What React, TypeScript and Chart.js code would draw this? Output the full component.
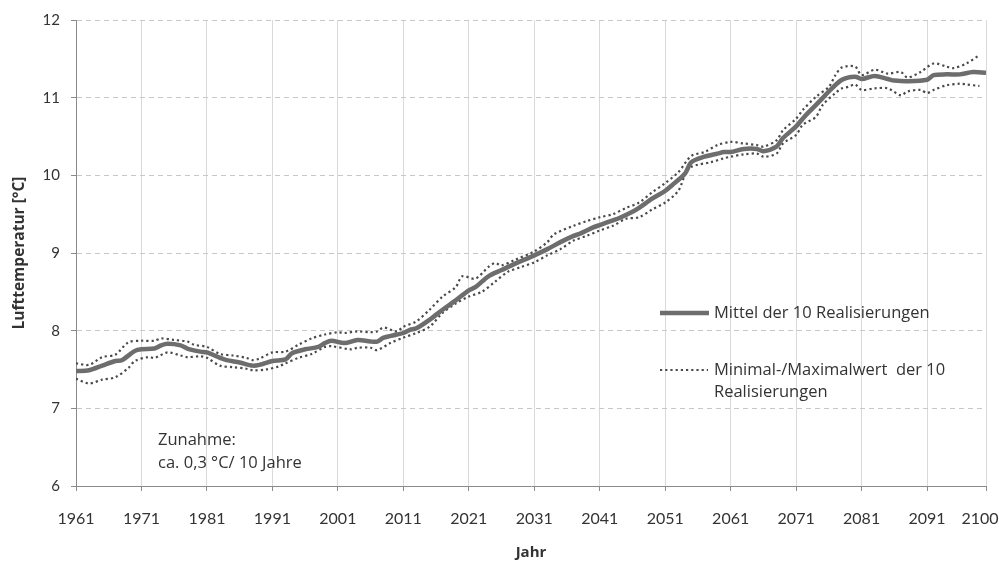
import { useEffect, useRef } from 'react';
import { Chart, registerables } from 'chart.js';

Chart.register(...registerables);

const meanYears = [1961,1963,1965,1967,1968,1970,1971,1973,1974,1975,1977,1978,1980,1981,1983,1984,1986,1988,1989,1991,1993,1994,1996,1998,1999,2000,2002,2004,2006,2007,2008,2010,2011,2012,2013,2015,2017,2019,2021,2022,2024,2026,2028,2031,2033,2035,2037,2038,2040,2041,2043,2044,2046,2047,2049,2051,2052,2054,2055,2057,2059,2060,2061,2063,2065,2066,2068,2069,2071,2072,2073,2075,2076,2078,2080,2081,2083,2085,2086,2088,2091,2092,2094,2096,2098,2100];
const meanValues = [7.48,7.49,7.55,7.61,7.62,7.74,7.76,7.77,7.81,7.83,7.81,7.77,7.73,7.72,7.65,7.62,7.59,7.55,7.56,7.61,7.63,7.71,7.76,7.79,7.84,7.87,7.84,7.88,7.86,7.86,7.91,7.95,7.97,8.01,8.03,8.14,8.27,8.39,8.52,8.56,8.70,8.78,8.86,8.97,9.05,9.14,9.22,9.25,9.33,9.36,9.42,9.45,9.53,9.58,9.70,9.80,9.87,10.02,10.17,10.24,10.28,10.30,10.30,10.34,10.34,10.31,10.37,10.48,10.63,10.73,10.82,10.99,11.08,11.23,11.27,11.24,11.28,11.24,11.22,11.21,11.23,11.29,11.30,11.30,11.33,11.32];

const maxYears = [1961,1963,1965,1967,1969,1971,1973,1974,1976,1978,1979,1981,1983,1985,1987,1988,1989,1991,1993,1995,1997,1999,2001,2002,2004,2006,2007,2008,2010,2011,2013,2015,2017,2019,2020,2022,2024,2025,2026,2028,2031,2033,2034,2037,2039,2041,2043,2045,2047,2049,2051,2053,2055,2057,2059,2061,2063,2065,2066,2068,2069,2071,2072,2074,2076,2077,2078,2080,2081,2083,2085,2087,2088,2090,2092,2094,2095,2097,2099];
const maxValues = [7.58,7.56,7.66,7.69,7.85,7.87,7.87,7.90,7.88,7.86,7.82,7.79,7.70,7.68,7.65,7.62,7.64,7.72,7.73,7.82,7.90,7.95,7.98,7.97,7.99,7.98,7.99,8.04,7.99,8.05,8.12,8.27,8.44,8.56,8.70,8.67,8.82,8.87,8.84,8.91,9.02,9.14,9.24,9.35,9.41,9.46,9.50,9.58,9.65,9.78,9.90,10.04,10.25,10.30,10.39,10.43,10.41,10.39,10.37,10.45,10.58,10.73,10.84,11.01,11.14,11.29,11.39,11.40,11.29,11.36,11.31,11.33,11.26,11.33,11.44,11.40,11.38,11.44,11.55];

const minYears = [1961,1963,1965,1967,1969,1970,1972,1973,1975,1977,1978,1980,1981,1983,1985,1987,1988,1990,1992,1993,1995,1997,1999,2000,2003,2004,2006,2007,2009,2011,2013,2015,2017,2019,2021,2023,2025,2027,2029,2031,2033,2035,2037,2039,2041,2043,2045,2047,2049,2051,2053,2054,2055,2058,2060,2061,2063,2065,2066,2068,2069,2071,2072,2074,2075,2077,2078,2079,2080,2081,2083,2085,2087,2088,2090,2091,2092,2094,2096,2097,2099];
const minValues = [7.38,7.32,7.37,7.40,7.52,7.61,7.66,7.65,7.72,7.68,7.66,7.67,7.65,7.55,7.53,7.51,7.49,7.50,7.54,7.58,7.65,7.70,7.79,7.80,7.76,7.78,7.78,7.75,7.84,7.91,7.97,8.05,8.23,8.35,8.44,8.50,8.63,8.76,8.82,8.88,8.97,9.05,9.16,9.22,9.29,9.35,9.44,9.46,9.56,9.65,9.80,10.00,10.11,10.17,10.22,10.24,10.27,10.28,10.24,10.28,10.41,10.52,10.65,10.75,10.90,11.06,11.12,11.14,11.17,11.10,11.12,11.12,11.03,11.08,11.10,11.06,11.10,11.16,11.18,11.17,11.15];

const xTickYears = [1961,1971,1981,1991,2001,2011,2021,2031,2041,2051,2061,2071,2081,2091,2100];
const yMin = 6;
const yMax = 12;

const meanLabel = 'Mittel der 10 Realisierungen';
const rangeLabel = ['Minimal-/Maximalwert  der 10', 'Realisierungen'];
const noteLines = ['Zunahme:', 'ca. 0,3 °C/ 10 Jahre'];
const xTitle = 'Jahr';
const yTitle = 'Lufttemperatur [°C]';

const TICK_FONT = 'Lato, "Noto Sans", sans-serif';
const TEXT_FONT = '"Open Sans", "Noto Sans", sans-serif';
const MEAN_COLOR = '#6d6d6d';
const RANGE_COLOR = '#4a4a4a';
const TEXT_COLOR = '#333333';
const AXIS_COLOR = '#8a8a8a';

const zip = (xs: number[], ys: number[]) => xs.map((x, i) => ({ x, y: ys[i] }));

const overlayPlugin = {
  id: 'overlayText',
  afterDatasetsDraw(chart: any) {
    const ctx = chart.ctx as CanvasRenderingContext2D;
    ctx.save();
    ctx.textBaseline = 'middle';
    ctx.textAlign = 'left';
    ctx.fillStyle = TEXT_COLOR;
    ctx.font = `16.5px ${TEXT_FONT}`;

    // legend: mean
    ctx.strokeStyle = MEAN_COLOR;
    ctx.lineWidth = 4.5;
    ctx.beginPath();
    ctx.moveTo(660, 313);
    ctx.lineTo(709, 313);
    ctx.stroke();
    ctx.fillText(meanLabel, 714, 313);

    // legend: range
    ctx.strokeStyle = RANGE_COLOR;
    ctx.lineWidth = 2.2;
    ctx.setLineDash([2.2, 3]);
    ctx.beginPath();
    ctx.moveTo(660, 370);
    ctx.lineTo(708, 370);
    ctx.stroke();
    ctx.setLineDash([]);
    ctx.fillText(rangeLabel[0], 714, 370);
    ctx.fillText(rangeLabel[1], 714, 392);

    // note
    ctx.font = `16.5px ${TEXT_FONT}`;
    ctx.fillText(noteLines[0], 158, 440);
    ctx.fillText(noteLines[1], 158, 463);
    ctx.restore();
  },
};

export default function App() {
  const canvasRef = useRef<HTMLCanvasElement | null>(null);

  useEffect(() => {
    document.body.style.margin = '0';
    const canvas = canvasRef.current;
    if (!canvas) return;
    const chart = new Chart(canvas, {
      type: 'line',
      data: {
        datasets: [
          {
            label: meanLabel,
            data: zip(meanYears, meanValues),
            borderColor: MEAN_COLOR,
            borderWidth: 4.5,
            pointRadius: 0,
            tension: 0.3,
            fill: false,
          },
          {
            label: 'Maximalwert',
            data: zip(maxYears, maxValues),
            borderColor: RANGE_COLOR,
            borderWidth: 2.2,
            borderDash: [2.2, 3],
            pointRadius: 0,
            tension: 0.3,
            fill: false,
          },
          {
            label: 'Minimalwert',
            data: zip(minYears, minValues),
            borderColor: RANGE_COLOR,
            borderWidth: 2.2,
            borderDash: [2.2, 3],
            pointRadius: 0,
            tension: 0.3,
            fill: false,
          },
        ],
      },
      options: {
        animation: false,
        responsive: false,
        devicePixelRatio: 1,
        layout: { padding: { top: 17, right: 13, left: 0, bottom: 0 } },
        plugins: {
          legend: { display: false },
          tooltip: { enabled: false },
        },
        scales: {
          x: {
            type: 'linear',
            min: 1961,
            max: 2100,
            afterBuildTicks: (scale: any) => {
              scale.ticks = xTickYears.map((v) => ({ value: v }));
            },
            afterFit: (scale: any) => {
              scale.height = 76;
              scale.paddingRight = 0;
            },
            ticks: {
              autoSkip: false,
              maxRotation: 0,
              color: TEXT_COLOR,
              font: { family: TICK_FONT, size: 16 },
              padding: 18,
              callback: (v: any) => (v === 2100 ? '2100\u2003' : String(v)),
            },
            grid: {
              color: (c: any) => (c.tick && c.tick.value === 1961 ? 'rgba(0,0,0,0)' : '#d9d9d9'),
              lineWidth: 1,
              tickColor: AXIS_COLOR,
              tickLength: 5,
            },
            border: { color: AXIS_COLOR, width: 1 },
            title: {
              display: true,
              text: xTitle,
              color: TEXT_COLOR,
              font: { family: TEXT_FONT, size: 15, weight: 'bold' },
              padding: { top: 0, bottom: 0 },
            },
          },
          y: {
            type: 'linear',
            min: yMin,
            max: yMax,
            afterFit: (scale: any) => {
              scale.width = 76;
            },
            ticks: {
              stepSize: 1,
              color: TEXT_COLOR,
              font: { family: TICK_FONT, size: 15 },
              padding: 11,
            },
            grid: {
              color: (c: any) => (c.tick && c.tick.value === yMin ? 'rgba(0,0,0,0)' : '#c8c8c8'),
              lineWidth: 1,
              tickColor: AXIS_COLOR,
              tickLength: 5,
              tickBorderDash: [],
            },
            border: { color: AXIS_COLOR, width: 1, dash: [5, 4] },
            title: {
              display: true,
              text: yTitle,
              color: TEXT_COLOR,
              font: { family: TEXT_FONT, size: 15.5, weight: 'bold' },
              padding: { top: 10, bottom: 0 },
            },
          },
        },
      },
      plugins: [overlayPlugin],
    } as any);
    return () => chart.destroy();
  }, []);

  return (
    <div style={{ position: 'absolute', left: 0, top: 0, width: 999, height: 562, background: '#fff' }}>
      <canvas ref={canvasRef} width={999} height={562} />
    </div>
  );
}
